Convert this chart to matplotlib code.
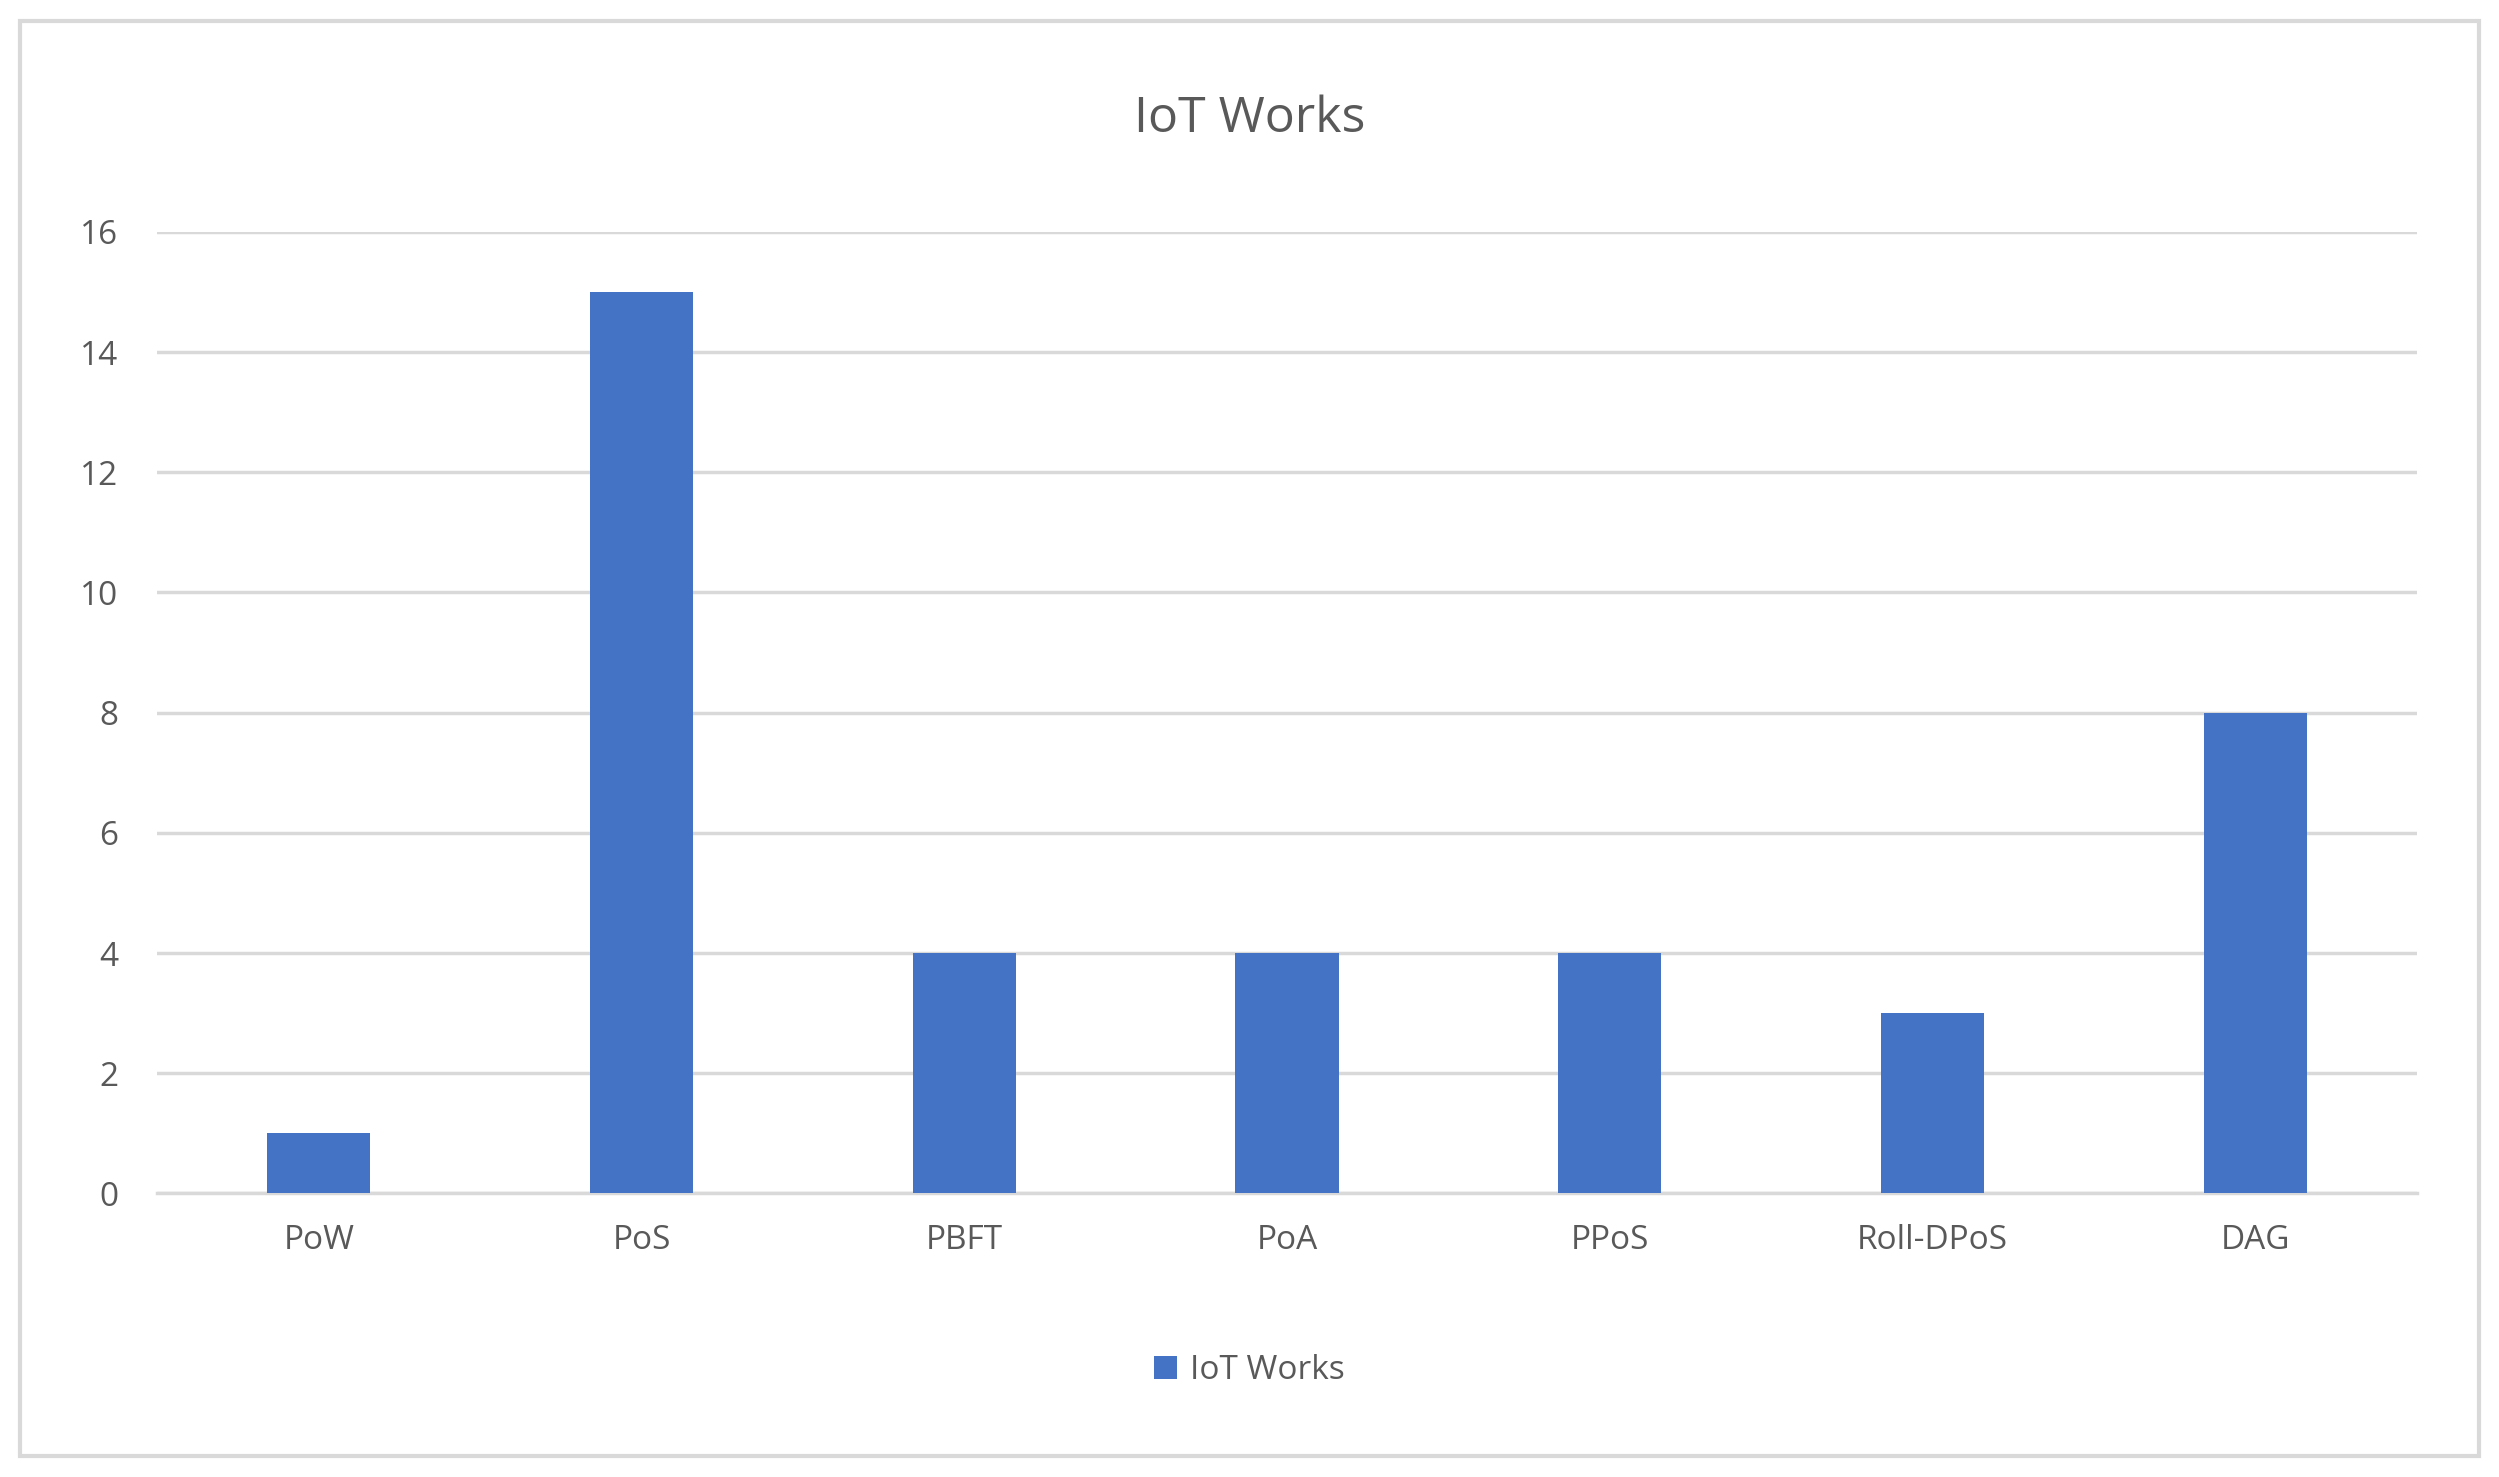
import matplotlib.pyplot as plt
from matplotlib.patches import Rectangle

plt.rcParams['font.family'] = ['Open Sans', 'DejaVu Sans']

# Number of IoT works per consensus mechanism
categories = ['PoW', 'PoS', 'PBFT', 'PoA', 'PPoS', 'Roll-DPoS', 'DAG']
iot_works = [1, 15, 4, 4, 4, 3, 8]

text_color = '#595959'
grid_color = '#D9D9D9'

fig = plt.figure(figsize=(24.99, 14.77), dpi=100)
ax = fig.add_axes([0.063, 0.192, 0.904, 0.651])

x = range(len(categories))
ax.bar(x, iot_works, width=0.32, color='#4472C4', label='IoT Works', zorder=3)

ax.set_xlim(-0.5, len(categories) - 0.5)
ax.set_ylim(0, 16)
ax.set_yticks(range(0, 17, 2))
ax.set_xticks(list(x))
ax.set_xticklabels(categories)
ax.tick_params(axis='both', length=0, labelsize=24, colors=text_color)
ax.tick_params(axis='x', pad=22)
ax.tick_params(axis='y', pad=28)
ax.grid(axis='y', color=grid_color, linewidth=2.5, zorder=0)
for side in ['top', 'right', 'left']:
    ax.spines[side].set_visible(False)
ax.spines['bottom'].set_color(grid_color)
ax.spines['bottom'].set_linewidth(2.5)

fig.text(0.5, 0.919, 'IoT Works', ha='center', va='center', fontsize=36, color=text_color)
fig.legend(loc='center', bbox_to_anchor=(0.5, 0.072), frameon=False, fontsize=24,
           labelcolor=text_color, handlelength=0.7, handleheight=0.7, handletextpad=0.4)

# outer chart border
fig.patches.append(Rectangle((0.008, 0.014), 0.984, 0.972, transform=fig.transFigure,
                             fill=False, edgecolor=grid_color, linewidth=3))

fig.savefig('out.png', dpi=100)
